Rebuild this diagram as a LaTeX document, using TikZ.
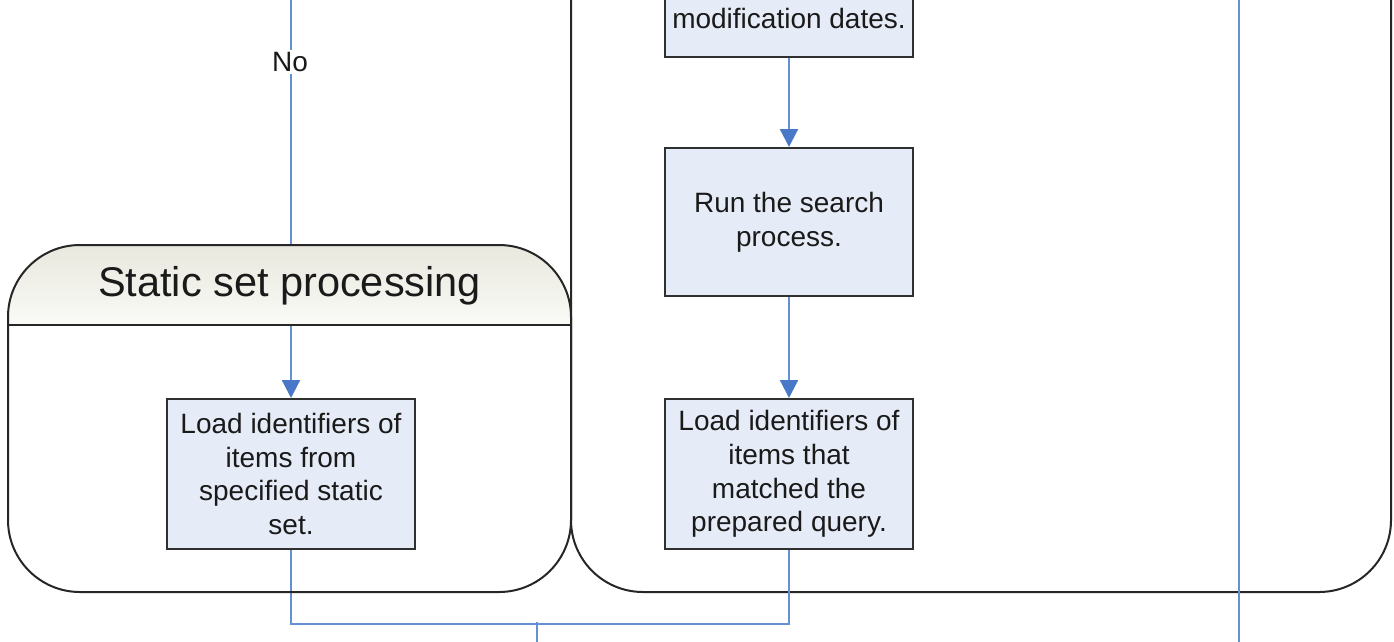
\documentclass[tikz,border=0pt]{standalone}
\usepackage{fontspec}
\setmainfont{Liberation Sans}
\usetikzlibrary{arrows.meta}
\definecolor{flowblue}{HTML}{6690D4}
\definecolor{tipblue}{HTML}{4A78C8}
\definecolor{boxfill}{HTML}{E6ECF7}
\definecolor{boxline}{HTML}{303030}
\definecolor{headtop}{HTML}{E8E8DE}
\definecolor{headbot}{HTML}{FAFAF7}
\definecolor{ink}{HTML}{1A1A1A}
\begin{document}
\begin{tikzpicture}[x=1pt,y=-1pt,
  stepbox/.style={draw=boxline, line width=2pt, fill=boxfill,
    minimum width=248pt, minimum height=150pt, align=center, inner sep=0pt,
    text=ink, font=\fontsize{28}{33.7}\selectfont},
  flow/.style={draw=flowblue, line width=2.2pt},
  flowarrow/.style={flow, -{Triangle[length=18pt,width=18pt,color=tipblue]}},
  frame/.style={draw=black!85, line width=2pt},
  lbl/.style={text=ink, font=\fontsize{28}{33.7}\selectfont}]
\useasboundingbox (0,0) rectangle (1394,641);
\clip (0,0) rectangle (1394,641);

% query processing container (continues above the page)
\draw[frame, rounded corners=72pt] (571,-200) rectangle (1391,592);

% process steps
\node[stepbox, anchor=south, minimum height=200pt] (prep) at (789,58) {};
\node[lbl] (preptext) at (789,18) {modification dates.};
\node[stepbox, anchor=north, minimum height=148pt] (search) at (789,147)
  {Run the search\\process.};
\node[stepbox, anchor=north] (mload) at (789,398)
  {Load identifiers of\\items that\\matched the\\prepared query.};
\node[stepbox, anchor=north] (sload) at (291,398)
  {Load identifiers of\\items from\\specified static\\set.};

% connectors
\coordinate (noin) at (291,-10);
\draw[flowarrow] (noin) -- (sload);
\node[lbl, fill=white, inner sep=2pt] (no) at (290,62) {No};
\draw[flowarrow] (prep) -- (search);
\draw[flowarrow] (search) -- (mload);
\draw[flow] (sload.south) -- ++(0,74) -| (mload.south);
\coordinate (merge) at (537,622);
\coordinate (down) at (537,651);
\draw[flow] (merge) -- (down);
\coordinate (rtop) at (1239,-10);
\coordinate (rbot) at (1239,651);
\draw[flow] (rtop) -- (rbot);

% static set container with shaded header
\begin{scope}
  \clip[rounded corners=72pt] (8,245) rectangle (571,592);
  \shade[top color=headtop, bottom color=headbot] (8,245) rectangle (571,325);
\end{scope}
\draw[frame, rounded corners=72pt] (8,245) rectangle (571,592);
\draw[frame] (8,325) -- (571,325);
\node[text=ink, font=\fontsize{41.5}{48}\selectfont] (title) at (289.5,286)
  {Static set processing};
\end{tikzpicture}
\end{document}
